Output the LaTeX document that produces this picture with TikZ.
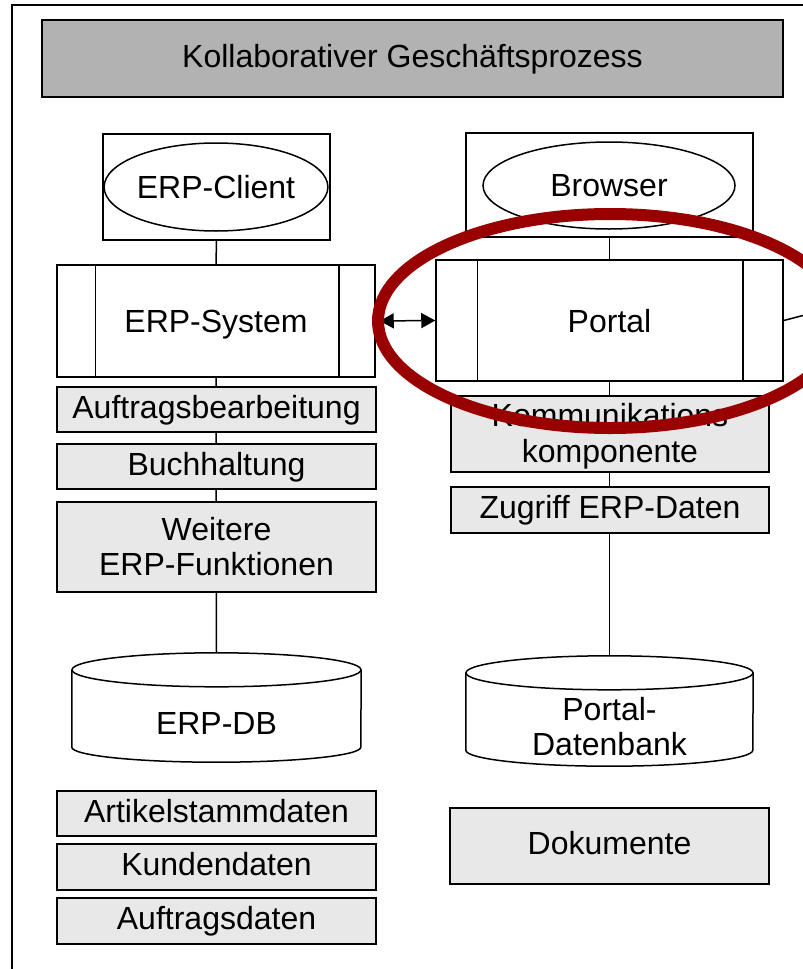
\documentclass[tikz,border=0pt]{standalone}
\usepackage{fontspec}
\setmainfont{Liberation Sans}
\usetikzlibrary{backgrounds,calc,arrows.meta,shapes.geometric}
\definecolor{titlegray}{HTML}{B2B2B2}
\definecolor{boxgray}{HTML}{E8E8E8}
\definecolor{markred}{HTML}{990000}
\begin{document}
\begin{tikzpicture}[x=1pt,y=-1pt,
  every node/.style={font=\fontsize{32}{35.5}\selectfont, inner sep=0pt},
  thinline/.style={line width=1.5pt},
  onel/.style={text height=24pt,text depth=7pt},
  lowl/.style={text height=29pt,text depth=7pt},
  corners/.style n args={4}{at={({(#1+#3)/2},{(#2+#4)/2})},
     minimum width={(#3-#1)*1pt}, minimum height={(#4-#2)*1pt}},
  box/.style={draw, thinline, fill=boxgray, align=center},
  plainbox/.style={draw, thinline, fill=white, align=center},
  oval/.style={draw, thinline, ellipse, align=center},
  conn/.style={thinline},
  redring/.style={draw=markred, line width=12pt}
]
\useasboundingbox (0,0) rectangle (803,969);
\clip (0,0) rectangle (803,969);
% outer frame
\draw[thinline] (12,5) rectangle (840,1000);
% title
\node[draw, thinline, fill=titlegray, onel, corners={42}{20}{783}{97}] (title) {Kollaborativer Geschäftsprozess};
% client side
\node[plainbox, corners={103}{134}{330}{240}] (clientbox) {};
\node[oval, lowl, corners={117}{143}{315}{231}] (client) {ERP-Client};
\node[plainbox, corners={466}{133}{753}{237}] (browserbox) {};
\node[oval, lowl, corners={483}{142}{735}{229}] (browser) {Browser};
% systems
\node[plainbox, text height=29pt, text depth=7pt, corners={57}{265}{375}{377}] (erp) {ERP-System};
\draw[thinline] ($(erp.north west)+(39,0)$) -- ($(erp.south west)+(39,0)$);
\draw[thinline] ($(erp.north east)+(-37,0)$) -- ($(erp.south east)+(-37,0)$);
\node[plainbox, text height=31pt, text depth=7pt, corners={436}{260}{783}{381}] (portal) {Portal};
\draw[thinline] ($(portal.north west)+(42,0)$) -- ($(portal.south west)+(42,0)$);
\draw[thinline] ($(portal.north east)+(-41,0)$) -- ($(portal.south east)+(-41,0)$);
% ERP function boxes
\node[box, onel, corners={57}{387}{376}{432}] (auf) {Auftragsbearbeitung};
\node[box, onel, corners={57}{444}{376}{489}] (buch) {Buchhaltung};
\node[box, corners={57}{502}{376}{592}] (weitere) {\rule{0pt}{28pt}Weitere\\ERP-Funktionen\rule[-6pt]{0pt}{6pt}};
% portal function boxes
\node[box, corners={451}{396}{769}{472}] (komm) {\rule{0pt}{28pt}Kommunikations\\komponente\rule[-6pt]{0pt}{6pt}};
\node[box, onel, corners={451}{487}{769}{533}] (zugriff) {Zugriff ERP-Daten};
% databases
\node[corners={72}{653}{361}{762}] (erpdb) {};
\draw[thinline, fill=white] ($(erpdb.north west)+(0,17)$) -- ($(erpdb.south west)+(0,-15)$)
   arc[start angle=180, end angle=360, x radius=144.5pt, y radius=15pt]
   -- ($(erpdb.north east)+(0,17)$);
\draw[thinline] ($(erpdb.north)+(0,17)$) ellipse [x radius=144.5pt, y radius=17pt];
\node[onel] (erpdbtext) at (216.5,725.5) {ERP-DB};
\node[corners={466}{656}{753}{766}] (portaldb) {};
\draw[thinline, fill=white] ($(portaldb.north west)+(0,17)$) -- ($(portaldb.south west)+(0,-16)$)
   arc[start angle=180, end angle=360, x radius=143.5pt, y radius=16pt]
   -- ($(portaldb.north east)+(0,17)$);
\draw[thinline] ($(portaldb.north)+(0,17)$) ellipse [x radius=143.5pt, y radius=17pt];
\node[align=center] (portaldbtext) at (609.5,727) {\rule{0pt}{28pt}Portal-\\Datenbank\rule[-6pt]{0pt}{6pt}};
% data boxes
\node[box, onel, corners={57}{791}{376}{836}] (artikel) {Artikelstammdaten};
\node[box, onel, corners={57}{844}{376}{890}] (kunden) {Kundendaten};
\node[box, onel, corners={57}{898}{376}{944}] (auftrag) {Auftragsdaten};
\node[box, onel, corners={450}{808}{769}{884}] (doku) {Dokumente};
% connectors
\coordinate (offright) at (843,305);
\draw[conn] (clientbox.south) -- (erp.north);
\draw[conn] (browserbox.south) -- (portal.north);
\begin{pgfonlayer}{background}
\draw[conn] (erp.south) -- (erpdb.north);
\draw[conn] (portal.south) -- (portaldb.north);
\end{pgfonlayer}
\draw[conn, {Triangle[length=14pt,width=15pt]}-{Triangle[length=14pt,width=15pt]}, shorten <=4pt] (erp.east) -- (portal.west);
\draw[conn] (portal.east) -- (offright);
% red highlight
\draw[redring] (610,321) ellipse [x radius=232pt, y radius=107pt];
\end{tikzpicture}
\end{document}
